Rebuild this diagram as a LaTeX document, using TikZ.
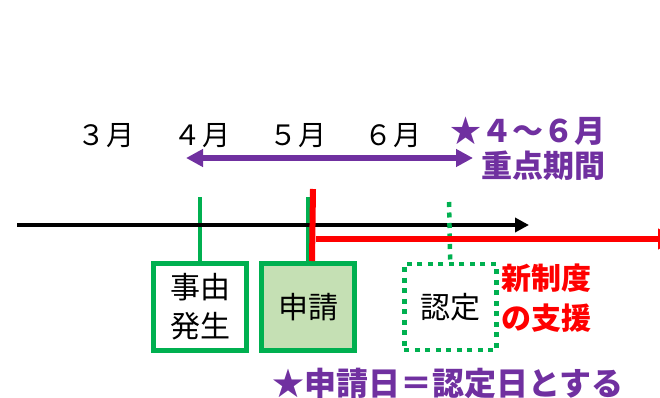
\documentclass[tikz,border=0pt]{standalone}
\usepackage{fontspec}
\setmainfont{Noto Sans CJK JP}
\usetikzlibrary{positioning,arrows.meta}
\definecolor{kikan}{HTML}{7030A0}
\definecolor{midori}{HTML}{00B050}
\definecolor{usumidori}{HTML}{C5E0B4}

\begin{document}
\begin{tikzpicture}[x=1pt, y=-1pt,
  month/.style={font=\fontsize{28}{30}\selectfont},
  box/.style={draw=midori, line width=5pt, minimum width=93pt, minimum height=87pt,
    inner sep=0pt, align=center, font=\fontsize{30}{39}\selectfont},
  note/.style={font=\bfseries\fontsize{31}{35}\selectfont}]
  \useasboundingbox (0,0) rectangle (660,398);
  \node[month] (m3) at (106,136) {３\hspace{2pt}月};
  \node[month] (m4) at (202,136) {４\hspace{2pt}月};
  \node[month] (m5) at (298,136) {５\hspace{2pt}月};
  \node[month] (m6) at (393,136) {６\hspace{2pt}月};
  \node[note, text=kikan, align=right, anchor=east] (juten) at (609,149) {★４～６月\\重点期間};
  \node[box] (ev) at (200,307) {事由\\発生};
  \node[box, fill=usumidori, right=10pt of ev] (ap) {申請};
  \node[box, line width=4.5pt, dash pattern=on 5pt off 5.5pt, minimum width=92pt,
    minimum height=86pt, right=45pt of ap] (cert) {認定};
  \node[note, text=red, align=left, anchor=west, font=\bfseries\fontsize{30}{40}\selectfont] (shin) at (498,298) {新制度\\の支援};
  \node[note, text=kikan, font=\bfseries\fontsize{32}{36}\selectfont] (rule) at (448,383) {★申請日＝認定日とする};
  \coordinate (pl) at (186,158);
  \coordinate (pr) at (473,158);
  \coordinate (axstart) at (17,225);
  \coordinate (axend) at (529,225);
  \coordinate (evtop) at (200,197);
  \coordinate (aptop) at (308,197);
  \coordinate (certtop) at (449,202);
  \coordinate (redtop) at (313,189);
  \coordinate (redbot) at (312,261);
  \coordinate (redstart) at (316,239);
  \coordinate (redend) at (676,239);
  \draw[kikan, line width=5pt, {Triangle[length=17pt,width=17pt]}-{Triangle[length=17pt,width=17pt]}] (pl) -- (pr);
  \draw[midori, line width=4.5pt] (evtop) -- (ev.north);
  \draw[midori, line width=4.5pt] (aptop) -- (ap.north);
  \draw[line width=3.5pt, -{Triangle[length=14pt,width=14pt]}] (axstart) -- (axend);
  \draw[midori, line width=4.5pt, dash pattern=on 5pt off 5.5pt] (certtop) -- (cert.north);
  \draw[red, line width=6pt] (redtop) -- (redbot);
  \draw[red, line width=6pt, -{Triangle[length=18pt,width=20pt]}] (redstart) -- (redend);
\end{tikzpicture}
\end{document}
